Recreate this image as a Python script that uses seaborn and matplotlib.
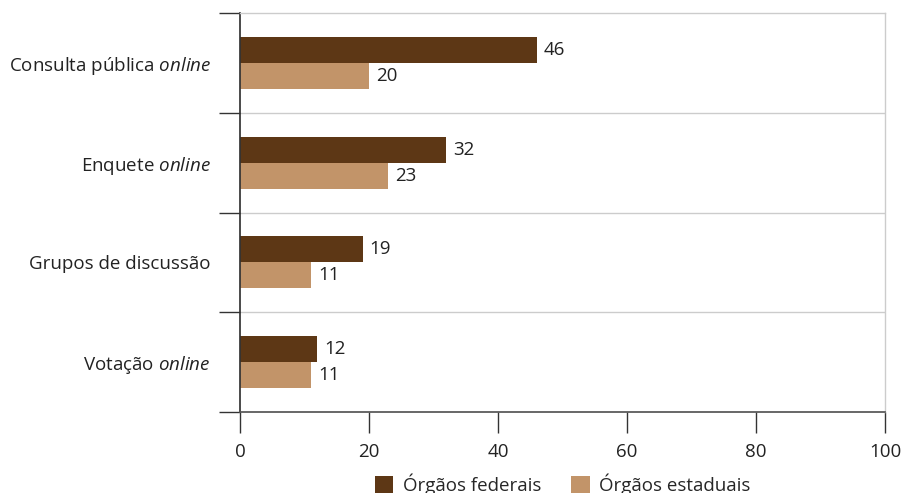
import matplotlib
matplotlib.use("Agg")
import matplotlib.pyplot as plt
import seaborn as sns
import pandas as pd

categories = ["Consulta pública $\\mathit{online}$", "Enquete $\\mathit{online}$",
              "Grupos de discussão", "Votação $\\mathit{online}$"]
series = ["Órgãos federais", "Órgãos estaduais"]
federais = [46, 32, 19, 12]
estaduais = [20, 23, 11, 11]
colors = ["#5D3715", "#C29469"]

sns.set_theme(style="white")
plt.rcParams['font.family'] = ['Open Sans', 'DejaVu Sans']
plt.rcParams['mathtext.fontset'] = 'custom'
plt.rcParams['mathtext.it'] = 'Open Sans:italic'
plt.rcParams['mathtext.rm'] = 'Open Sans'

df = pd.DataFrame({
    "cat": categories * 2,
    "serie": [series[0]] * 4 + [series[1]] * 4,
    "val": federais + estaduais,
})

FS = 13.5
fig = plt.figure(figsize=(9.01, 4.93), dpi=100)
ax = fig.add_axes([240/901, 1-412/493, 645/901, 399/493])
sns.barplot(data=df, y="cat", x="val", hue="serie", orient="h",
            palette=colors, width=0.52, ax=ax, legend=True, saturation=1,
            linewidth=0)

ax.set_xlim(0, 100)
ax.set_ylim(3.5, -0.5)
ax.set_xticks([0, 20, 40, 60, 80, 100])
ax.set_xlabel("")
ax.set_ylabel("")
ax.tick_params(axis='x', length=15, width=1, color='#333333', labelsize=FS, labelcolor='#222222', pad=7, direction='out', bottom=True)
ax.tick_params(axis='y', which='major', length=0, labelsize=FS, labelcolor='#222222', pad=21)
ax.set_yticks([-0.5, 0.5, 1.5, 2.5, 3.5], minor=True)
ax.tick_params(axis='y', which='minor', length=15, width=1, color='#333333', left=True)

for b in [0.5, 1.5, 2.5]:
    ax.axhline(b, color='#CCCCCC', lw=1, zorder=0)

for s in ['top', 'right']:
    ax.spines[s].set_color('#CCCCCC')
    ax.spines[s].set_linewidth(1)
ax.spines['left'].set_color('#333333')
ax.spines['bottom'].set_color('#555555')
for s in ax.spines.values():
    s.set_visible(True)

for cont in ax.containers:
    ax.bar_label(cont, padding=5, fontsize=FS, color='#222222')

ax.legend(handles=ax.get_legend_handles_labels()[0], labels=series,
          loc='center', bbox_to_anchor=(0.5, -0.18), ncol=2, frameon=False,
          fontsize=FS, handlelength=1.0, handleheight=1.0, columnspacing=1.6,
          handletextpad=0.5, borderaxespad=0, borderpad=0)

fig.savefig("out.png", dpi=100)
